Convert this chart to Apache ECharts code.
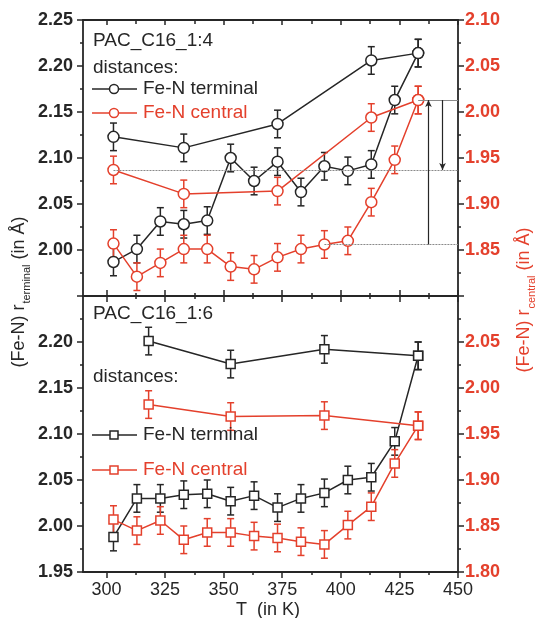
<!DOCTYPE html>
<html>
<head>
<meta charset="utf-8">
<script src="https://cdn.jsdelivr.net/npm/echarts@6/dist/echarts.min.js"></script>
<style>
  html, body { margin: 0; padding: 0; background: #fff; }
  #chart { width: 535px; height: 618px; }
</style>
</head>
<body>
<div id="chart"></div>
<script>
// Temperatures (K)
const T_SCAN = [303, 313, 323, 333, 343, 353, 363, 373, 383, 393, 403, 413, 423, 433];
const T_SPARSE_4 = [303, 333, 373, 413, 433];
const T_SPARSE_6 = [318, 353, 393, 433];

// PAC_C16_1:4 — Fe-N distances (Å)
const terminal4Scan = [1.987, 2.001, 2.031, 2.028, 2.032, 2.100, 2.075, 2.096, 2.063, 2.091, 2.086, 2.093, 2.163, 2.214];
const terminal4Sparse = [2.123, 2.111, 2.137, 2.206, 2.214];
const central4Scan = [1.857, 1.821, 1.836, 1.851, 1.851, 1.832, 1.829, 1.842, 1.851, 1.856, 1.860, 1.902, 1.948, 2.013];
const central4Sparse = [1.937, 1.911, 1.914, 1.994, 2.013];

// PAC_C16_1:6 — Fe-N distances (Å)
const terminal6Scan = [1.988, 2.030, 2.030, 2.034, 2.035, 2.027, 2.033, 2.020, 2.030, 2.036, 2.050, 2.053, 2.092, 2.185];
const terminal6Sparse = [2.201, 2.176, 2.192, 2.185];
const central6Scan = [1.857, 1.845, 1.856, 1.835, 1.843, 1.843, 1.839, 1.837, 1.833, 1.830, 1.851, 1.871, 1.918, 1.959];
const central6Sparse = [1.982, 1.969, 1.970, 1.959];

// Uncertainty of each distance (Å)
const ERR = 0.015;

// Reference levels on the central axis (Å) and arrow positions (K)
const refLevels = { high: 2.013, mid: 1.937, low: 1.856 };
const arrowT = { long: 437.4, short: 443.4 };

// Axis ticks
const X_MAJOR = [300, 325, 350, 375, 400, 425, 450];
const X_MINOR = [312.5, 337.5, 362.5, 387.5, 412.5, 437.5];

const BLACK = '#262626';
const RED = '#e4402c';
const FONT = '"Liberation Sans", Arial, Helvetica, sans-serif';

const chart = echarts.init(document.getElementById('chart'), null, { renderer: 'canvas' });

const G = { left: 83, width: 375, h: 276, top0: 20, top1: 296 };

function zip(xs, ys) { return xs.map((x, i) => [x, ys[i]]); }

function xAxisDef(grid, position, values, len, inside, showLine, labels) {
  return {
    type: 'value', gridIndex: grid, position: position, min: 290, max: 450,
    axisLine: { show: showLine, onZero: false, lineStyle: { color: BLACK, width: 1.8 } },
    axisTick: { show: true, customValues: values, inside: inside, length: len, lineStyle: { color: BLACK, width: 1.5 } },
    axisLabel: labels ? {
      show: true, customValues: X_MAJOR, margin: 9, color: BLACK,
      fontSize: 18, fontFamily: FONT, formatter: v => String(Math.round(v))
    } : { show: false },
    splitLine: { show: false }
  };
}

function yAxisDef(grid, position, min, max, color, hideMin, hideMax) {
  return {
    type: 'value', gridIndex: grid, position: position, min: min, max: max, interval: 0.05,
    axisLine: { show: true, onZero: false, lineStyle: { color: BLACK, width: 1.8 } },
    axisTick: { show: true, length: 6, lineStyle: { color: BLACK, width: 1.5 } },
    minorTick: { show: true, splitNumber: 2, length: 3, lineStyle: { color: BLACK, width: 1.5 } },
    axisLabel: {
      color: color, fontSize: 18, fontWeight: 'bold', fontFamily: FONT,
      margin: position === 'left' ? 10 : 7,
      showMinLabel: !hideMin, showMaxLabel: !hideMax,
      formatter: v => v.toFixed(2)
    },
    splitLine: { show: false }
  };
}

function errorBars(xi, yi, xs, ys, color) {
  return {
    type: 'custom', xAxisIndex: xi, yAxisIndex: yi, z: 1, silent: true, animation: false,
    data: zip(xs, ys),
    renderItem: function (params, api) {
      const x = api.value(0), y = api.value(1);
      const hi = api.coord([x, y + ERR]);
      const lo = api.coord([x, y - ERR]);
      const w = 3.5;
      const st = { stroke: color, lineWidth: 1.5 };
      return {
        type: 'group', children: [
          { type: 'line', shape: { x1: hi[0], y1: hi[1], x2: lo[0], y2: lo[1] }, style: st },
          { type: 'line', shape: { x1: hi[0] - w, y1: hi[1], x2: hi[0] + w, y2: hi[1] }, style: st },
          { type: 'line', shape: { x1: lo[0] - w, y1: lo[1], x2: lo[0] + w, y2: lo[1] }, style: st }
        ]
      };
    }
  };
}

function lineSeries(name, xi, yi, xs, ys, color, symbol, size) {
  return {
    name: name, type: 'line', xAxisIndex: xi, yAxisIndex: yi, z: 3, animation: false,
    data: zip(xs, ys), symbol: symbol, symbolSize: size, showAllSymbol: true,
    lineStyle: { color: color, width: 1.5 },
    itemStyle: { color: '#fff', borderColor: color, borderWidth: 1.5 }
  };
}

const series = [
  errorBars(0, 0, T_SCAN, terminal4Scan, BLACK),
  errorBars(0, 0, T_SPARSE_4, terminal4Sparse, BLACK),
  errorBars(0, 1, T_SCAN, central4Scan, RED),
  errorBars(0, 1, T_SPARSE_4, central4Sparse, RED),
  errorBars(4, 2, T_SCAN, terminal6Scan, BLACK),
  errorBars(4, 2, T_SPARSE_6, terminal6Sparse, BLACK),
  errorBars(4, 3, T_SCAN, central6Scan, RED),
  errorBars(4, 3, T_SPARSE_6, central6Sparse, RED),
  lineSeries('Fe-N terminal', 0, 0, T_SCAN, terminal4Scan, BLACK, 'circle', 11),
  lineSeries('Fe-N terminal', 0, 0, T_SPARSE_4, terminal4Sparse, BLACK, 'circle', 11),
  lineSeries('Fe-N central', 0, 1, T_SPARSE_4, central4Sparse, RED, 'circle', 11),
  lineSeries('Fe-N terminal', 4, 2, T_SCAN, terminal6Scan, BLACK, 'rect', 9),
  lineSeries('Fe-N terminal', 4, 2, T_SPARSE_6, terminal6Sparse, BLACK, 'rect', 9),
  lineSeries('Fe-N central', 4, 3, T_SCAN, central6Scan, RED, 'rect', 9),
  lineSeries('Fe-N central', 4, 3, T_SPARSE_6, central6Sparse, RED, 'rect', 9)
];

// central scan of 1:4 carries the reference levels and arrows
const c4 = lineSeries('Fe-N central', 0, 1, T_SCAN, central4Scan, RED, 'circle', 11);
const grey = { color: '#8a8a8a', width: 1.2 };
c4.markLine = {
  silent: true, animation: false, symbol: ['none', 'none'], symbolSize: 6,
  label: { show: false },
  lineStyle: { color: '#8a8a8a', width: 1.2, type: 'solid' },
  data: [
    [{ coord: [433, refLevels.high], lineStyle: grey }, { coord: [450, refLevels.high] }],
    [{ coord: [303, refLevels.mid], lineStyle: Object.assign({ type: [2, 1] }, grey) }, { coord: [450, refLevels.mid] }],
    [{ coord: [393, refLevels.low], lineStyle: Object.assign({ type: [2, 1] }, grey) }, { coord: [450, refLevels.low] }],
    [{ coord: [arrowT.long, refLevels.low], lineStyle: { color: BLACK, width: 1.2 }, symbol: 'none' },
     { coord: [arrowT.long, refLevels.high], symbol: 'arrow', symbolSize: [5, 7] }],
    [{ coord: [arrowT.short, refLevels.high], lineStyle: { color: BLACK, width: 1.2 }, symbol: 'none' },
     { coord: [arrowT.short, refLevels.mid], symbol: 'arrow', symbolSize: [5, 7] }]
  ]
};
series.push(c4);

function txt(x, y, s, color, size, align) {
  return {
    type: 'text', x: x, y: y, z: 10, silent: true,
    style: { text: s, fill: color, font: (size || 19) + 'px ' + FONT, align: align || 'left', verticalAlign: 'middle' }
  };
}
function legendItem(y, color, symbol, label) {
  const sym = symbol === 'circle'
    ? { type: 'circle', shape: { cx: 114, cy: y, r: 4.5 }, style: { fill: '#fff', stroke: color, lineWidth: 1.5 }, z: 11 }
    : { type: 'rect', shape: { x: 110, y: y - 4, width: 8, height: 8 }, style: { fill: '#fff', stroke: color, lineWidth: 1.5 }, z: 11 };
  return [
    { type: 'line', shape: { x1: 92, y1: y, x2: 137, y2: y }, style: { stroke: color, lineWidth: 1.5 }, z: 10 },
    sym,
    txt(143, y, label, color, 19)
  ];
}

const rotTitle = (x, y, sub, color) => ({
  type: 'text', x: x, y: y, rotation: Math.PI / 2, z: 10, silent: true,
  style: {
    text: '{a|(Fe-N) r}{s|' + sub + '}{a| (in Å)}',
    align: 'center', verticalAlign: 'middle',
    rich: {
      a: { fill: color, fontSize: 18, fontFamily: FONT, lineHeight: 26, verticalAlign: 'middle' },
      s: { fill: color, fontSize: 11, fontFamily: FONT, lineHeight: 26, verticalAlign: 'bottom', padding: [0, 0, 0, 1] }
    }
  }
});

const graphic = [].concat(
  [txt(93, 41, 'PAC_C16_1:4', BLACK), txt(93, 68, 'distances:', BLACK)],
  legendItem(89, BLACK, 'circle', 'Fe-N terminal'),
  legendItem(113, RED, 'circle', 'Fe-N central'),
  [txt(93, 314, 'PAC_C16_1:6', BLACK), txt(93, 377, 'distances:', BLACK)],
  legendItem(435, BLACK, 'rect', 'Fe-N terminal'),
  legendItem(470, RED, 'rect', 'Fe-N central'),
  [txt(268, 610, 'T  (in K)', BLACK, 18, 'center')],
  [rotTitle(19, 292, 'terminal', BLACK), rotTitle(524, 300, 'central', RED)]
);

chart.setOption({
  backgroundColor: '#fff',
  animation: false,
  grid: [
    { left: G.left, top: G.top0, width: G.width, height: G.h },
    { left: G.left, top: G.top1, width: G.width, height: G.h }
  ],
  xAxis: [
    xAxisDef(0, 'bottom', X_MAJOR, 6, false, true, false),
    xAxisDef(0, 'bottom', X_MINOR, 3, false, false, false),
    xAxisDef(0, 'top', X_MAJOR, 5, true, true, false),
    xAxisDef(0, 'top', X_MINOR, 4, true, false, false),
    xAxisDef(1, 'bottom', X_MAJOR, 6, false, true, true),
    xAxisDef(1, 'bottom', X_MINOR, 3, false, false, false),
    xAxisDef(1, 'top', X_MAJOR, 6, false, true, false),
    xAxisDef(1, 'top', X_MINOR, 3, false, false, false)
  ],
  yAxis: [
    yAxisDef(0, 'left', 1.95, 2.25, BLACK, true, false),
    yAxisDef(0, 'right', 1.80, 2.10, RED, true, false),
    yAxisDef(1, 'left', 1.95, 2.25, BLACK, false, true),
    yAxisDef(1, 'right', 1.80, 2.10, RED, false, true)
  ],
  series: series,
  graphic: graphic
});
</script>
</body>
</html>
